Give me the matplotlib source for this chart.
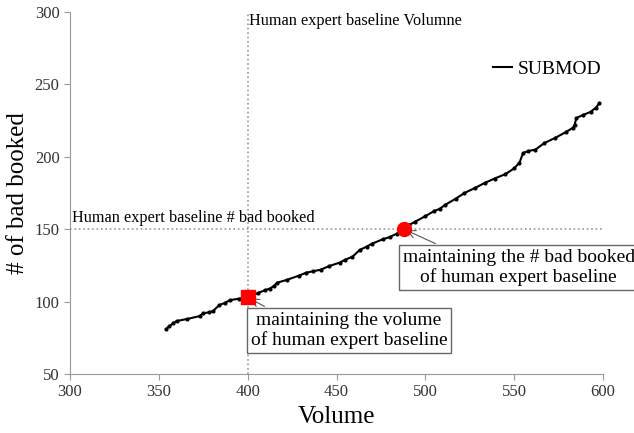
import matplotlib
matplotlib.use("Agg")
import matplotlib.pyplot as plt

plt.rcParams['font.family'] = ['Liberation Serif', 'DejaVu Serif']

# curva SUBMOD (volume, # bad booked)
volume = [354, 356, 358, 360, 366, 373, 375, 378, 380.5, 384, 387, 390, 395, 400,
          406, 410, 412.5, 415, 416.5, 422, 429, 433, 437, 441, 446, 452, 455,
          459, 463, 467, 470, 476, 480, 484, 488, 491, 494, 500, 505, 508, 511,
          517, 522, 528, 533.5, 539, 545, 550, 553, 555, 558, 562, 567, 573, 579,
          583, 584, 585, 589, 593, 596, 598]
bad_booked = [81, 83, 85, 86.6, 88, 90, 92, 92.5, 93.5, 97.6, 99, 101, 102, 103,
              106, 108, 109, 111, 113, 115, 118, 120, 121, 122, 124.6, 127, 129,
              131, 135.6, 138, 140, 143, 144.6, 147, 150, 153, 155, 159, 162.6,
              164, 166.7, 171, 175, 178.5, 182, 185, 188, 192, 196, 202.6, 204,
              205, 209.5, 213, 217, 220, 222, 226.8, 229, 231, 234, 237]

base_volume = 400
base_bad = 150
pt_volume = (400, 103)
pt_bad = (488, 150)

fig = plt.figure(figsize=(6.34, 4.33), dpi=100)
ax = fig.add_axes([70 / 634, 59 / 433, 533 / 634, 362 / 433])

ax.plot(volume, bad_booked, '-', color='black', lw=1.5, marker='.', ms=4,
        label='SUBMOD', zorder=3)

ax.axvline(base_volume, color='#999999', ls=':', lw=1.2, zorder=1)
ax.plot([300, 600], [base_bad, base_bad], color='#999999', ls=':', lw=1.2,
        zorder=1)
ax.text(401, 294, 'Human expert baseline Volumne', fontsize=11.7,
        ha='left', va='center')
ax.text(301, 152, 'Human expert baseline # bad booked', fontsize=11.7,
        ha='left', va='bottom')

ax.plot(*pt_volume, 's', color='red', ms=10, zorder=4)
ax.plot(*pt_bad, 'o', color='red', ms=10, zorder=4)

box = dict(boxstyle='square,pad=0.18', fc='white', ec='#666666', lw=1)
ax.annotate('maintaining the volume\nof human expert baseline', xy=pt_volume,
            xytext=(457, 80), fontsize=14, ha='center', va='center',
            bbox=box, annotation_clip=False,
            arrowprops=dict(arrowstyle='->', color='#555555', lw=0.8,
                            relpos=(0.12, 1.0)))
ax.annotate('maintaining the # bad booked\nof human expert baseline', xy=pt_bad,
            xytext=(552.5, 123.5), fontsize=14, ha='center', va='center',
            bbox=box, annotation_clip=False,
            arrowprops=dict(arrowstyle='->', color='#555555', lw=0.8,
                            relpos=(0.19, 1.0)))

ax.set_xlim(300, 600)
ax.set_ylim(50, 300)
ax.set_xticks(range(300, 601, 50))
ax.set_yticks(range(50, 301, 50))
ax.set_xlabel('Volume', fontsize=18)
ax.set_ylabel('# of bad booked', fontsize=18)
for s in ['top', 'right']:
    ax.spines[s].set_visible(False)
for s in ['left', 'bottom']:
    ax.spines[s].set_color('#999999')
ax.tick_params(colors='#999999', labelcolor='#333333', labelsize=12, length=4)

leg = ax.legend(loc='upper right', bbox_to_anchor=(1.03, 0.915), frameon=False,
                fontsize=14, handlelength=1.0, handletextpad=0.3)
for h in leg.legend_handles:
    h.set_marker('')

fig.savefig('out.png', dpi=100)
